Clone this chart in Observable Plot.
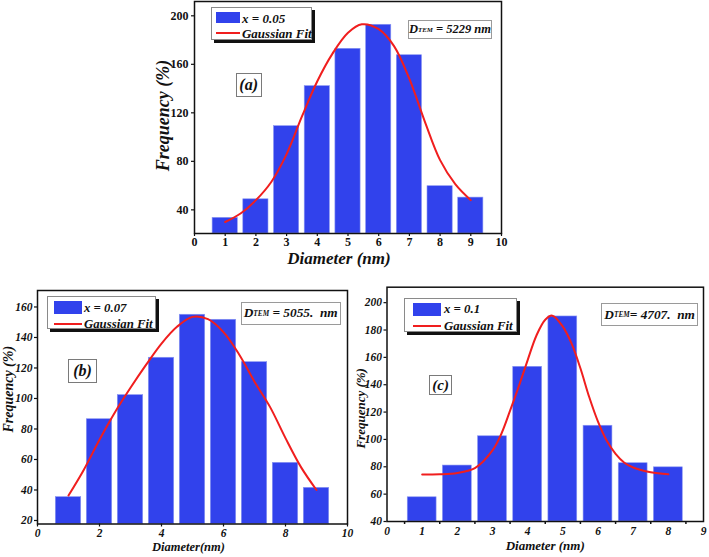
<!DOCTYPE html>
<html><head><meta charset="utf-8">
<script src="https://cdn.jsdelivr.net/npm/d3@7"></script>
<script src="https://cdn.jsdelivr.net/npm/@observablehq/plot@0.6"></script>
<style>
body{margin:0;background:#fff;}
#root{position:relative;width:709px;height:557px;overflow:hidden;background:#fff;font-family:"Liberation Serif","Times New Roman",serif;}
.panel{position:absolute;}
.panel svg{display:block;max-width:none;overflow:visible;background:transparent;}
.box{position:absolute;box-sizing:border-box;background:#fff;font-weight:bold;font-style:italic;color:#111;}
.legend{border:1px solid #8a8a8a;box-shadow:3px 3px 0 #111;}
.sw{position:absolute;background:#3142ec;}
.ln{position:absolute;height:2px;background:#f01e1e;}
.lt{position:absolute;white-space:nowrap;line-height:1;transform:translateY(-50%);}
.dtem{border:1px solid #9a9a9a;display:flex;align-items:center;justify-content:center;white-space:pre;}
.tag{border:1px solid #7a7a7a;display:flex;align-items:center;justify-content:center;}
.dtem sub{font-size:0.55em;vertical-align:-0.3em;}
</style></head>
<body><div id="root"></div>
<script>
// ---------- data ----------
const diamA = [1, 2, 3, 4, 5, 6, 7, 8, 9];
const freqA = [33.4, 48.7, 109, 142, 172.8, 192.6, 167.5, 59.5, 50.1];
const fitAx = [1, 1.5, 2, 2.5, 3, 3.5, 4, 4.5, 5, 5.45, 6, 6.5, 7, 7.5, 8, 8.5, 9];
const fitAy = [30, 37, 48, 63, 86, 117, 146, 169, 186, 193, 189, 175, 148, 113, 81, 61, 48];
const xTicksA = [0, 1, 2, 3, 4, 5, 6, 7, 8, 9, 10];
const yTicksA = [40, 80, 120, 160, 200];

const diamB = [1, 2, 3, 4, 5, 6, 7, 8, 9];
const freqB = [35.3, 86.4, 102.2, 126.7, 154.9, 151.6, 123.8, 57.8, 41.4];
const fitBx = [1, 1.5, 2, 2.5, 3, 3.5, 4, 4.5, 5, 5.5, 6, 6.5, 7, 7.5, 8, 8.5, 9];
const fitBy = [36.4, 53.5, 73, 91, 107, 122, 136, 147, 153.5, 152, 143.5, 129, 111, 94.5, 74, 55, 40];
const xTicksB = [0, 2, 4, 6, 8, 10];
const yTicksB = [20, 40, 60, 80, 100, 120, 140, 160];

const diamC = [1, 2, 3, 4, 5, 6, 7, 8];
const freqC = [57.7, 80.9, 102.3, 153.1, 189.9, 110, 82.6, 79.6];
const fitCx = [1, 1.5, 2, 2.5, 3, 3.25, 3.5, 3.75, 4, 4.25, 4.5, 4.7, 5, 5.25, 5.5, 5.75, 6, 6.25, 6.5, 6.75, 7, 7.5, 8];
const fitCy = [74.3, 74.5, 75.5, 79, 92, 104, 121, 139, 158, 176, 187.5, 190.5, 182.5, 170, 152, 131, 113, 99, 89.5, 83, 79.5, 76, 74.5];
const xTicksC = [0, 1, 2, 3, 4, 5, 6, 7, 8, 9];
const xMinorC = [0.5, 1.5, 2.5, 3.5, 4.5, 5.5, 6.5, 7.5, 8.5];
const yTicksC = [40, 60, 80, 100, 120, 140, 160, 180, 200];

const BLUE = "#3142ec", RED = "#f01e1e";
const FONT = "'Liberation Serif', 'Times New Roman', serif";

function panel(o) {
  const bars = o.diam.map((d, i) => ({d, f: o.freq[i]}));
  const fit = o.fitx.map((x, i) => ({x, y: o.fity[i]}));
  const marks = [
    Plot.rect(bars, {x1: r => r.d - 0.41, x2: r => r.d + 0.41, y1: () => o.yd[0], y2: "f", fill: BLUE, stroke: "#8a96f2", strokeWidth: 0.6}),
    Plot.line(fit, {x: "x", y: "y", stroke: RED, strokeWidth: 2, curve: "catmull-rom"}),
    Plot.frame({stroke: "#111", strokeWidth: 1.5}),
    Plot.axisX({ticks: o.xt, tickSize: o.xTickSize ?? 3, tickPadding: o.xpad, fontSize: o.tfs, fontStyle: o.tstyle, label: null, strokeWidth: 1.2, fill: "#111"}),
    Plot.axisY({ticks: o.yt, tickSize: 3, tickPadding: o.ypad, fontSize: o.tfs, fontStyle: o.tstyle, label: null, strokeWidth: 1.2, fill: "#111"}),
    Plot.text([o.xtitle], {text: d => d, frameAnchor: "bottom", dx: o.xtdx, dy: o.xtdy, fontSize: o.xtfs, fontStyle: "italic", textAnchor: "middle", lineAnchor: "middle"}),
    Plot.text([o.ytitle], {text: d => d, frameAnchor: "left", dx: o.ytdx, dy: o.ytdy, rotate: -90, fontSize: o.ytfs, fontStyle: "italic", textAnchor: "middle", lineAnchor: "middle"})
  ];
  if (o.xminor) marks.push(Plot.axisX({ticks: o.xminor, tickSize: 3, text: null, label: null, strokeWidth: 1.5}));
  const svg = Plot.plot({
    width: o.w, height: o.h,
    marginLeft: o.ml, marginRight: o.mr, marginTop: o.mt, marginBottom: o.mb,
    x: {domain: o.xd},
    y: {domain: o.yd},
    style: {fontFamily: FONT, fontWeight: "bold", background: "transparent", overflow: "visible", color: "#111"},
    marks
  });
  const div = document.createElement("div");
  div.className = "panel";
  div.style.left = o.left + "px";
  div.style.top = o.top + "px";
  div.style.width = o.w + "px";
  div.style.height = o.h + "px";
  div.appendChild(svg);
  return div;
}

const root = document.getElementById("root");

root.appendChild(panel({
  left: 140, top: 0, w: 370, h: 270, ml: 54, mr: 9, mt: 1, mb: 37,
  xd: [0, 10], yd: [20.5, 211.8], diam: diamA, freq: freqA, fitx: fitAx, fity: fitAy,
  xt: xTicksA, yt: yTicksA, tfs: 12, tstyle: "normal", xpad: 1, ypad: 3,
  xtitle: "Diameter (nm)", xtdx: -9, xtdy: 25, xtfs: 17,
  ytitle: "Frequency (%)", ytdx: -31, ytdy: -2, ytfs: 18
}));

root.appendChild(panel({
  left: 0, top: 280, w: 360, h: 277, ml: 37, mr: 13, mt: 10, mb: 33.5,
  xd: [0, 10], yd: [17.7, 170.8], diam: diamB, freq: freqB, fitx: fitBx, fity: fitBy,
  xt: xTicksB, yt: yTicksB, tfs: 11.5, tstyle: "italic", xpad: 2, ypad: 2,
  xtitle: "Diameter(nm)", xtdx: -4, xtdy: 23, xtfs: 12.5,
  ytitle: "Frequency (%)", ytdx: -29, ytdy: -18, ytfs: 14
}));

root.appendChild(panel({
  left: 355, top: 280, w: 354, h: 277, ml: 31.5, mr: 6, mt: 6.7, mb: 36,
  xd: [0, 9], yd: [40, 211.3], diam: diamC, freq: freqC, fitx: fitCx, fity: fitCy,
  xt: xTicksC, xTickSize: 0, xminor: xMinorC, yt: yTicksC, tfs: 11.5, tstyle: "italic", xpad: 5, ypad: 2,
  xtitle: "Diameter (nm)", xtdx: 0, xtdy: 24, xtfs: 13,
  ytitle: "Frequency (%)", ytdx: -26.5, ytdy: 4, ytfs: 13
}));

// ---------- annotations ----------
function el(cls, css, html) {
  const d = document.createElement("div");
  d.className = cls;
  Object.assign(d.style, css);
  if (html != null) d.innerHTML = html;
  return d;
}
function legend(L) {
  const box = el("box legend", {left: L.x + "px", top: L.y + "px", width: L.w + "px", height: L.h + "px"});
  box.appendChild(el("sw", {left: L.sx + "px", top: L.sy + "px", width: L.sw + "px", height: L.sh + "px"}));
  box.appendChild(el("ln", {left: L.sx + "px", top: (L.ly - 1) + "px", width: L.sw + "px"}));
  box.appendChild(el("lt", {left: L.tx + "px", top: L.t1y + "px", fontSize: L.fs + "px"}, L.label));
  box.appendChild(el("lt", {left: L.tx + "px", top: L.ly + "px", fontSize: L.fs + "px"}, "Gaussian Fit"));
  root.appendChild(box);
}
function dtem(D) {
  root.appendChild(el("box dtem", {left: D.x + "px", top: D.y + "px", width: D.w + "px", height: D.h + "px", fontSize: D.fs + "px"}, D.html));
}
function tag(T) {
  root.appendChild(el("box tag", {left: T.x + "px", top: T.y + "px", width: T.w + "px", height: T.h + "px", fontSize: T.fs + "px"}, T.text));
}

legend({x: 210.7, y: 7.3, w: 101.6, h: 32.7, sx: 4.3, sy: 3.7, sw: 24.3, sh: 11.3, tx: 30.3, t1y: 9.6, ly: 25, fs: 13, label: "x = 0.05"});
legend({x: 46.7, y: 296, w: 109.3, h: 33.3, sx: 6.6, sy: 4, sw: 27.7, sh: 13.3, tx: 36.3, t1y: 10.7, ly: 26.7, fs: 12.8, label: "x = 0.07"});
legend({x: 404.3, y: 298.3, w: 112.4, h: 33.4, sx: 8, sy: 3.4, sw: 27.7, sh: 13.3, tx: 38.7, t1y: 9.9, ly: 26.7, fs: 12.8, label: "x = 0.1"});

dtem({x: 408.3, y: 20, w: 83.4, h: 19.3, fs: 12.5, html: "D<sub>TEM</sub> = 5229 nm"});
dtem({x: 240.7, y: 301.7, w: 100, h: 23.3, fs: 13.3, html: "D<sub>TEM</sub> = 5055.  nm"});
dtem({x: 601, y: 303.3, w: 97.3, h: 22.7, fs: 13.3, html: "D<sub>TEM</sub>= 4707.  nm"});

tag({x: 235.7, y: 72.7, w: 26, h: 24.6, fs: 16, text: "(a)"});
tag({x: 68.3, y: 359.3, w: 28.4, h: 24, fs: 16, text: "(b)"});
tag({x: 429, y: 375, w: 23.3, h: 20, fs: 15, text: "(c)"});
</script>
</body></html>
